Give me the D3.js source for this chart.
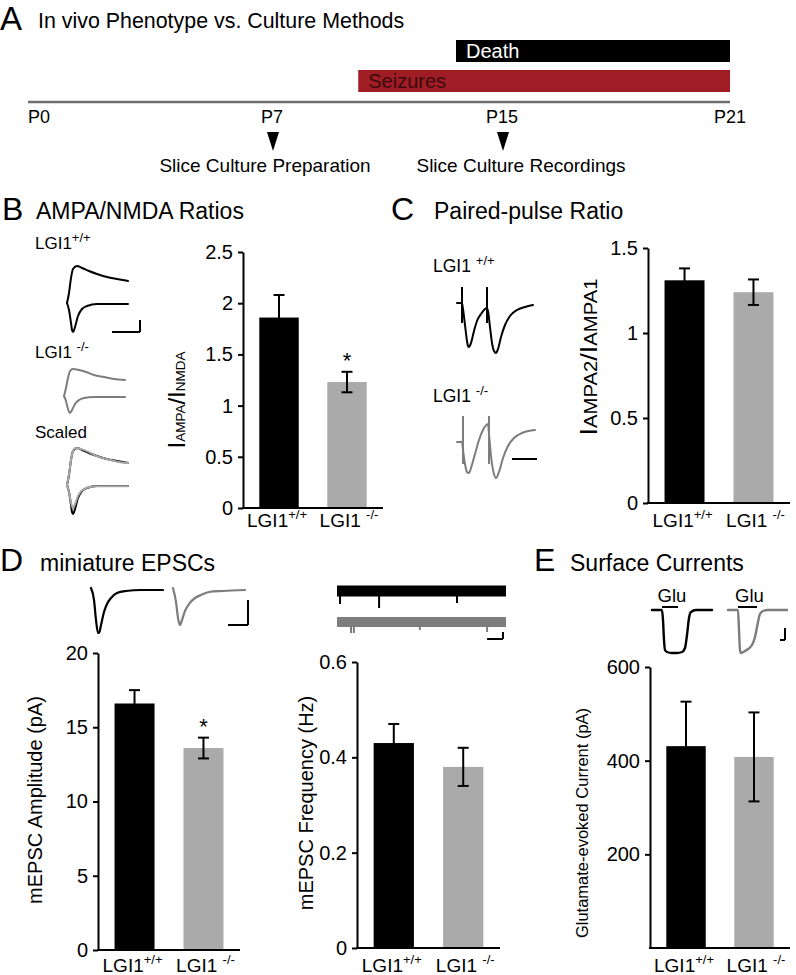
<!DOCTYPE html>
<html><head><meta charset="utf-8">
<script src="https://cdn.jsdelivr.net/npm/d3@7"></script>
<style>
body{margin:0;background:#fff}
svg{display:block}
text{font-family:"Liberation Sans",Arial,Helvetica,sans-serif;fill:#000}
</style>
</head><body>
<svg id="fig" width="796" height="975"></svg>
<script>
// ---------------- DATA ----------------
const genotypes = ["+/+", "-/-"];
const barColors = ["#000000", "#aaaaaa"];
const traceColors = ["#000000", "#7d7d7d"];

// Panel A timeline
const timelineDays = [0, 7, 15, 21];
const timelineLabels = ["P0", "P7", "P15", "P21"];
const phenotypeNames = ["Death", "Seizures"];
const phenotypeStart = [13.4, 10];
const phenotypeEnd = [21, 21];
const phenotypeColors = ["#000000", "#a11d25"];
const phenotypeTextColors = ["#ffffff", "#3a0b0e"];
const methodDays = [7, 15];
const methodLabels = ["Slice Culture Preparation", "Slice Culture Recordings"];

// Bar data (mean, sem)
const ampaNmdaMean = [1.86, 1.23];
const ampaNmdaSem = [0.22, 0.10];
const ampaNmdaTicks = [0, 0.5, 1, 1.5, 2, 2.5];
const pprMean = [1.31, 1.24];
const pprSem = [0.07, 0.075];
const pprTicks = [0, 0.5, 1, 1.5];
const mAmpMean = [16.6, 13.6];
const mAmpSem = [0.9, 0.7];
const mAmpTicks = [0, 5, 10, 15, 20];
const mFreqMean = [0.43, 0.38];
const mFreqSem = [0.04, 0.04];
const mFreqTicks = [0, 0.2, 0.4, 0.6];
const surfMean = [431, 408];
const surfSem = [95, 95];
const surfTicks = [200, 400, 600];

// Example traces [time, current]
const nmdaWT = [[0,0],[2,10],[4,25],[6,34],[10,37],[15,35],[22,32],[30,29],[40,26],[50,24],[61,22]];
const ampaWT = [[0,0],[2,-7],[4,-20],[5,-27],[6,-29],[8,-24],[11,-13],[15,-6],[20,-3],[30,-1],[61,-1]];
const nmdaKO = [[0,0],[2,8],[4,18],[6,25],[9,27],[15,26],[22,24],[30,21],[40,19],[50,17],[61,16]];
const ampaKO = [[0,0],[2,-5],[4,-13],[6,-17],[8,-14],[11,-8],[15,-4],[20,-2],[30,-1],[61,-1]];

const pprWT = [[0,0],[5,0],[6,-6],[8,-22],[10,-38],[11,-43],[12,-44],[14,-40],[17,-28],[20,-18],[24,-11],[28,-6],[30,-5],[31,-8],[33,-24],[35,-40],[37,-48],[39,-50],[41,-46],[44,-34],[48,-22],[53,-13],[60,-7],[68,-4],[76,-2]];
const pprKO = [[0,0],[5,0],[6,-8],[8,-22],[10,-30],[12,-31],[14,-26],[18,-12],[22,2],[26,12],[31,18],[32,8],[34,-14],[37,-32],[39,-36],[42,-30],[46,-16],[51,-4],[57,4],[65,9],[78,12]];
const pprStimWT = [5, 30];
const pprStimKO = [6, 32];

const mepscWT = [[0,2],[3,-10],[5,-30],[7,-43],[8,-43],[10,-35],[13,-22],[16,-14],[20,-8],[26,-3],[35,-1],[50,0],[72,0]];
const mepscKO = [[0,2],[3,-12],[5,-28],[7,-35],[9,-30],[12,-21],[16,-14],[22,-8],[28,-5],[36,-2],[50,-1],[72,0]];

const recSpikesWT = [[1.8,13],[24.9,17],[71,12]];
const recSpikesKO = [[8.3,11],[10,11],[49,8],[88.8,10]];

const gluWT = [[0,0],[10,0],[11,-10],[12,-30],[13,-40],[15,-42],[20,-43],[25,-43],[30,-42],[33,-38],[35,-25],[37,-8],[39,-2],[44,0],[60,0]];
const gluKO = [[0,0],[10,0],[11,-20],[12,-40],[13,-43],[17,-41],[24,-35],[27,-27],[30,-12],[32,-4],[35,-1],[40,0],[59,0]];
const gluApplyWT = [10, 26];
const gluApplyKO = [10, 29];

// ---------------- DRAW ----------------
const svg = d3.select("#fig");

function genoLabel(g, x, y, sup, opts) {
  const o = Object.assign({size: 19, supSize: 13, space: false, anchor: "middle"}, opts || {});
  const t = g.append("text").attr("x", x).attr("y", y).attr("font-size", o.size).attr("text-anchor", o.anchor);
  t.append("tspan").text("LGI1" + (o.space ? " " : ""));
  t.append("tspan").attr("font-size", o.supSize).attr("dy", -o.size * 0.42).text(sup);
  return t;
}

// Panel letters & titles
function panelTitle(letter, lx, ly, letterSize, title, tx, baseline, titleSize) {
  svg.append("text").attr("x", lx).attr("y", ly).attr("font-size", letterSize).text(letter);
  svg.append("text").attr("x", tx).attr("y", baseline).attr("font-size", titleSize || 23).text(title);
}
panelTitle("A", 0, 30, 33, "In vivo Phenotype vs. Culture Methods", 38, 28, 21.4);
panelTitle("B", 2, 220, 32, "AMPA/NMDA Ratios", 36, 219);
panelTitle("C", 391, 220, 32, "Paired-pulse Ratio", 434, 219);
panelTitle("D", 0, 571, 32, "miniature EPSCs", 40, 571);
panelTitle("E", 534, 571, 32, "Surface Currents", 570, 571);

// ---- Panel A ----
const tx = d3.scaleLinear().domain(timelineDays).range([28, 272, 502, 730]);
const gA = svg.append("g");
phenotypeNames.forEach((name, i) => {
  const yTop = 40 + i * 30;
  gA.append("rect").attr("x", tx(phenotypeStart[i])).attr("y", yTop)
    .attr("width", tx(phenotypeEnd[i]) - tx(phenotypeStart[i])).attr("height", 22)
    .attr("fill", phenotypeColors[i]);
  gA.append("text").attr("x", tx(phenotypeStart[i]) + 10).attr("y", yTop + 18)
    .attr("font-size", 20).style("fill", phenotypeTextColors[i]).text(name);
});
gA.append("line").attr("x1", tx(0)).attr("x2", tx(21)).attr("y1", 102).attr("y2", 102)
  .attr("stroke", "#6e6e6e").attr("stroke-width", 2.5);
timelineDays.forEach((d, i) => {
  gA.append("text").attr("x", tx(d)).attr("y", 123).attr("font-size", 18)
    .attr("text-anchor", i === 0 ? "start" : "middle").text(timelineLabels[i]);
});
methodDays.forEach((d, i) => {
  const cx = tx(d) + 1;
  gA.append("path").attr("d", `M${cx-6},132 L${cx+6},132 L${cx},151 Z`).attr("fill", "#000");
  gA.append("text").attr("x", tx(d) + (i === 0 ? -7 : 19)).attr("y", 172).attr("font-size", 19)
    .attr("text-anchor", "middle").text(methodLabels[i]);
});

// ---- Bar chart helper ----
function barChart(o) {
  const g = svg.append("g");
  const x = d3.scaleBand().domain(genotypes).range([o.x0, o.x1]).paddingInner(0.42).paddingOuter(0.24);
  const y = d3.scaleLinear().domain([0, o.max]).range([o.yBottom, o.yTop]);
  g.selectAll("rect.bar").data(o.mean).enter().append("rect")
    .attr("x", (d, i) => x(genotypes[i])).attr("width", x.bandwidth())
    .attr("y", d => y(d)).attr("height", d => y(0) - y(d))
    .attr("fill", (d, i) => barColors[i]);
  o.mean.forEach((m, i) => {
    const cx = x(genotypes[i]) + x.bandwidth() / 2;
    const lo = y(m - o.sem[i]), hi = y(m + o.sem[i]);
    g.append("line").attr("x1", cx).attr("x2", cx).attr("y1", lo).attr("y2", hi).attr("stroke", "#000").attr("stroke-width", 2);
    [lo, hi].forEach(yy => g.append("line").attr("x1", cx - 5.5).attr("x2", cx + 5.5).attr("y1", yy).attr("y2", yy).attr("stroke", "#000").attr("stroke-width", 2));
    if (o.stars && o.stars[i]) {
      g.append("text").attr("x", cx).attr("y", hi - 4).attr("text-anchor", "middle").attr("font-size", 22).text("*");
    }
  });
  const ax = g.append("g").attr("transform", `translate(${o.x0},0)`)
    .call(d3.axisLeft(y).tickValues(o.ticks).tickSize(5).tickSizeOuter(0).tickPadding(5).tickFormat(d => String(d)));
  ax.select(".domain").attr("stroke", "#000").attr("stroke-width", 2);
  ax.selectAll(".tick line").attr("stroke", "#000").attr("stroke-width", 2);
  ax.selectAll(".tick text").attr("font-size", o.tickSize || 20).attr("font-family", "Liberation Sans, Arial, sans-serif").style("fill", "#000");
  ax.attr("font-family", null).attr("font-size", null);
  g.append("line").attr("x1", o.x0 - 1).attr("x2", o.x1).attr("y1", y(0)).attr("y2", y(0)).attr("stroke", "#000").attr("stroke-width", 2);
  genotypes.forEach((gt, i) => {
    const cx = x(gt) + x.bandwidth() / 2;
    genoLabel(g, cx + (i === 0 ? -2 : 2), o.labelY, gt, {space: i === 1});
  });
  return {x, y, g};
}

// ---- Trace helpers ----
function traceBox(left, baseline, sx, sy) {
  return {
    x: d3.scaleLinear().domain([0, 1]).range([left, left + (sx || 1)]),
    y: d3.scaleLinear().domain([0, 1]).range([baseline, baseline - (sy || 1)])
  };
}
function drawTrace(box, pts, color, width, k) {
  const f = k || 1;
  svg.append("path").datum(pts)
    .attr("d", d3.line().x(d => box.x(d[0])).y(d => box.y(d[1] * f)).curve(d3.curveMonotoneX))
    .attr("fill", "none").attr("stroke", color).attr("stroke-width", width || 2)
    .attr("stroke-linejoin", "round").attr("stroke-linecap", "round");
}
function seg(box, t1, i1, t2, i2, color, width) {
  svg.append("line").attr("x1", box.x(t1)).attr("y1", box.y(i1)).attr("x2", box.x(t2)).attr("y2", box.y(i2))
    .attr("stroke", color || "#000").attr("stroke-width", width || 2);
}

// ---- Panel B ----
genoLabel(svg, 35, 249, genotypes[0], {size: 17, supSize: 13, anchor: "start"});
genoLabel(svg, 35, 358, genotypes[1], {size: 17, supSize: 13, anchor: "start", space: true});
svg.append("text").attr("x", 35).attr("y", 438).attr("font-size", 17).text("Scaled");
const bWT = traceBox(67, 303), bKO = traceBox(64, 396), bSc = traceBox(67, 485);
drawTrace(bWT, nmdaWT, traceColors[0]); drawTrace(bWT, ampaWT, traceColors[0]);
drawTrace(bKO, nmdaKO, traceColors[1]); drawTrace(bKO, ampaKO, traceColors[1]);
const kScale = d3.max(nmdaWT, d => d[1]) / d3.max(nmdaKO, d => d[1]);
drawTrace(bSc, nmdaWT, traceColors[0]); drawTrace(bSc, ampaWT, traceColors[0]);
drawTrace(bSc, nmdaKO, "#a8a8a8", 2, kScale); drawTrace(bSc, ampaKO, "#a8a8a8", 2, kScale);
seg(bWT, 45, -29, 73, -29); seg(bWT, 73, -29, 73, -17);

barChart({x0: 243, x1: 383, yTop: 252, yBottom: 508, max: 2.5, ticks: ampaNmdaTicks,
  mean: ampaNmdaMean, sem: ampaNmdaSem, stars: [false, true], labelY: 527});
const yB = svg.append("text").attr("transform", "translate(185,400) rotate(-90)").attr("text-anchor", "middle");
yB.append("tspan").attr("font-size", 24).text("I");
yB.append("tspan").attr("font-size", 13.5).text("AMPA");
yB.append("tspan").attr("font-size", 24).text("/I");
yB.append("tspan").attr("font-size", 13.5).text("NMDA");

// ---- Panel C ----
genoLabel(svg, 433, 272, genotypes[0], {size: 17.5, supSize: 13, anchor: "start", space: true});
genoLabel(svg, 433, 402, genotypes[1], {size: 17.5, supSize: 13, anchor: "start", space: true});
const cWT = traceBox(457, 303), cKO = traceBox(457, 442);
drawTrace(cWT, pprWT, traceColors[0]);
pprStimWT.forEach(t => seg(cWT, t, 16, t, -20, traceColors[0], 2));
drawTrace(cKO, pprKO, traceColors[1]);
pprStimKO.forEach(t => seg(cKO, t, 26, t, -22, traceColors[1], 2));
seg(cKO, 55, -17, 80, -17);

barChart({x0: 648, x1: 790, yTop: 248, yBottom: 503, max: 1.5, ticks: pprTicks,
  mean: pprMean, sem: pprSem, labelY: 527});
const yC = svg.append("text").attr("transform", "translate(597,357) rotate(-90)").attr("text-anchor", "middle")
  .attr("textLength", 157).attr("lengthAdjust", "spacingAndGlyphs");
yC.append("tspan").attr("font-size", 24).text("I");
yC.append("tspan").attr("font-size", 18).text("AMPA2");
yC.append("tspan").attr("font-size", 24).text("/I");
yC.append("tspan").attr("font-size", 18).text("AMPA1");

// ---- Panel D (amplitude) ----
const dWT = traceBox(91, 590), dKO = traceBox(173, 590);
drawTrace(dWT, mepscWT, traceColors[0], 2.2);
drawTrace(dKO, mepscKO, traceColors[1], 2.2);
seg(dKO, 75, -10, 75, -35); seg(dKO, 55, -35, 75, -35);
barChart({x0: 98, x1: 240, yTop: 653, yBottom: 950, max: 20, ticks: mAmpTicks,
  mean: mAmpMean, sem: mAmpSem, stars: [false, true], labelY: 972});
svg.append("text").attr("transform", "translate(42,800) rotate(-90)").attr("text-anchor", "middle")
  .attr("font-size", 20).text("mEPSC Amplitude (pA)");

// ---- Panel D (frequency) ----
const fWT = traceBox(337, 591, 1.69), fKO = traceBox(337, 622, 1.69);
[[fWT, recSpikesWT, traceColors[0], 11], [fKO, recSpikesKO, traceColors[1], 10]].forEach(([box, spikes, col, w]) => {
  svg.append("line").attr("x1", box.x(0)).attr("x2", box.x(100)).attr("y1", box.y(0)).attr("y2", box.y(0))
    .attr("stroke", col).attr("stroke-width", w);
  spikes.forEach(s => seg(box, s[0], 0, s[0], -s[1], col, 2));
});
seg(fKO, 88.8, -17, 98.2, -17); seg(fKO, 98.2, -17, 98.2, -10);
barChart({x0: 357, x1: 500, yTop: 662, yBottom: 948, max: 0.6, ticks: mFreqTicks,
  mean: mFreqMean, sem: mFreqSem, labelY: 972});
svg.append("text").attr("transform", "translate(313,803) rotate(-90)").attr("text-anchor", "middle")
  .attr("font-size", 20).text("mEPSC Frequency (Hz)");

// ---- Panel E ----
const eWT = traceBox(652, 610), eKO = traceBox(728, 610);
drawTrace(eWT, gluWT, traceColors[0], 2.4);
drawTrace(eKO, gluKO, traceColors[1], 2.4);
[[eWT, gluApplyWT], [eKO, gluApplyKO]].forEach(([box, ap]) => {
  seg(box, ap[0], 3, ap[1], 3, "#000", 2);
  svg.append("text").attr("x", box.x((ap[0] + ap[1]) / 2) + 2).attr("y", box.y(8)).attr("text-anchor", "middle")
    .attr("font-size", 18.5).text("Glu");
});
seg(eKO, 57, -18, 57, -30); seg(eKO, 52, -30, 57, -30);
barChart({x0: 650, x1: 790, yTop: 667, yBottom: 948, max: 600, ticks: surfTicks,
  mean: surfMean, sem: surfSem, labelY: 972});
svg.append("text").attr("transform", "translate(588,823) rotate(-90)").attr("text-anchor", "middle")
  .attr("font-size", 16.5).text("Glutamate-evoked Current (pA)");
</script>
</body></html>
